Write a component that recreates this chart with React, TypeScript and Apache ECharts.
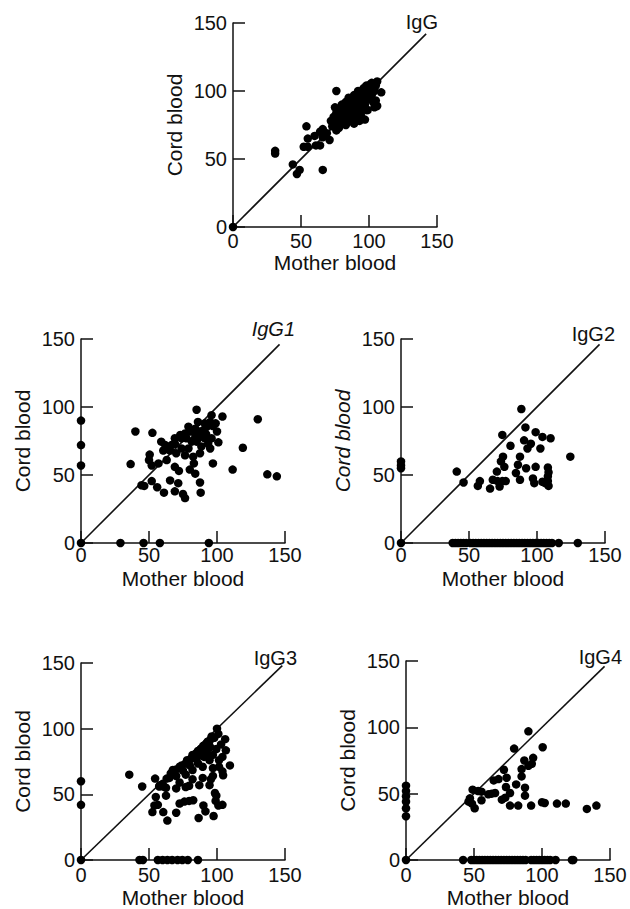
import React, { useEffect, useRef } from "react";
import * as echarts from "echarts";

type Pt = [number, number];

const axisTicks = [0, 50, 100, 150];
const panelTitles = ["IgG", "IgG1", "IgG2", "IgG3", "IgG4"];
const xAxisTitle = "Mother blood";
const yAxisTitle = "Cord blood";
const identityEnd = [142, 146, 146, 148, 146];

const igG: Pt[] = [
  [31, 54], [31, 56], [44, 46], [47, 39], [49, 42], [66, 42], [52, 59], [55, 59], [54, 74], [55, 65],
  [60, 67], [61, 60], [64, 60], [64, 70], [66, 72], [66, 66], [69, 69], [71, 64], [76, 100], [109, 99],
  [72, 78], [73, 74], [74, 81], [75, 76], [75, 88], [76, 84], [76, 71], [77, 79], [78, 73], [78, 86],
  [79, 82], [80, 77], [80, 90], [81, 84], [82, 79], [82, 88], [83, 75], [83, 92], [84, 86], [84, 77],
  [85, 82], [85, 95], [86, 89], [86, 78], [87, 84], [87, 93], [88, 87], [88, 80], [89, 97], [89, 90],
  [89, 76], [90, 84], [90, 93], [91, 88], [91, 80], [92, 100], [92, 95], [93, 91], [93, 86], [93, 78],
  [94, 98], [94, 82], [95, 93], [95, 88], [96, 102], [96, 96], [97, 90], [97, 79], [98, 104], [98, 86],
  [99, 98], [99, 86], [100, 94], [100, 101], [101, 105], [102, 97], [102, 106], [103, 92], [104, 100], [104, 88],
  [105, 104], [105, 93], [106, 89], [106, 107], [0, 0],
];

const igG1: Pt[] = [
  [0, 0], [0, 90], [0, 72], [0, 57], [29, 0], [46, 0], [58, 0], [94, 0],
  [36.5, 58], [40, 82], [52.5, 81], [85, 98], [104, 93], [130, 91], [119, 70], [111.5, 54], [137, 50.5], [144, 49],
  [97, 58.5], [101, 74], [88, 37], [87.5, 44.5], [76.5, 33], [75, 36], [69, 38], [61, 37], [56, 41], [52, 45.5],
  [46.5, 42], [65.5, 46], [71.5, 44], [72, 53], [69, 56], [80, 54], [83, 58.5], [84, 51], [50.5, 65], [52, 57],
  [57, 58.5], [59, 74.5], [63, 61], [60.5, 68], [62, 72], [64, 69.5], [66.5, 72], [69, 73], [65.5, 68], [70, 66],
  [74, 69.5], [76.5, 64.5], [79, 69.5], [81.5, 74.5], [77.5, 77], [74, 77], [80, 82], [84, 84], [86, 89], [91, 88],
  [95, 89], [96, 94], [92.5, 85.5], [88.5, 79.5], [91, 77], [93.5, 73], [96, 77], [100, 82], [95, 69.5], [87.5, 66],
  [82.5, 63.5], [88.5, 71], [85, 74.5], [79, 85.5], [76.5, 80.5], [73, 79.5], [69, 77], [84, 80], [87, 82], [90, 83],
  [92, 80], [86, 77], [83, 76], [97, 86], [99, 88], [50, 61], [44.5, 42.5],
];

const igG2: Pt[] = [
  [0, 0], [0, 60], [0, 57], [0, 55],
  [38, 0], [40, 0], [42, 0], [44, 0], [46, 0], [48, 0], [51, 0], [53, 0], [55, 0], [57, 0],
  [59, 0], [61, 0], [63, 0], [65, 0], [67, 0], [69, 0], [71, 0], [73, 0], [75, 0], [77, 0],
  [79, 0], [81, 0], [83, 0], [85, 0], [87, 0], [89, 0], [91, 0], [93, 0], [95, 0], [97, 0],
  [99, 0], [101, 0], [103, 0], [105, 0], [107, 0], [109, 0], [111, 0], [116, 0], [130, 0],
  [88.5, 98.5], [91.5, 85], [99, 81.5], [104, 78], [110, 77], [74.5, 79.5], [90.5, 75.5], [95.5, 73], [93, 69.5],
  [102.5, 69.5], [80.5, 71.5], [124.5, 63.5], [87.5, 63.5], [75, 63.5], [73.5, 60], [76, 56], [86, 57.5], [92, 55],
  [99, 56], [108, 55.5], [108.5, 52], [108, 49], [108, 45.5], [106, 44], [108.5, 42], [104, 45], [97, 47.5],
  [98, 44], [87.5, 46.5], [84.5, 51.5], [70.5, 52.5], [67.5, 46.5], [71, 45.5], [74.5, 45.5], [77, 45.5],
  [72.5, 41.5], [65.5, 40], [58, 45.5], [56.5, 42], [46, 44.5], [41, 52.5],
];

const igG3: Pt[] = [
  [0, 0], [0, 60], [0, 42],
  [43, 0], [45.5, 0], [56.5, 0], [60, 0], [63.5, 0], [67, 0], [71, 0], [74.5, 0], [78.5, 0], [86, 0],
  [35.5, 65], [45, 56], [54.5, 62], [100, 100], [106, 92], [109.5, 72], [104.5, 64.5], [55, 48], [62.5, 49],
  [54, 41.5], [56.5, 42], [52.5, 36.5], [60.5, 36.5], [63.5, 30], [70, 36], [72.5, 43], [76, 44.5], [79.5, 45],
  [82.5, 45.5], [90, 41.5], [91.5, 37], [86.5, 32], [97.5, 33.5], [99, 45], [99.5, 49], [98.5, 51], [101, 41.5],
  [104, 42], [62.5, 55], [57.5, 56], [60.5, 56], [70, 54.5], [77, 55.5], [79.5, 56.5], [87, 57], [94.5, 57],
  [72.5, 59], [82, 61.5], [89.5, 62.5], [97, 64], [104, 67.5], [97, 70], [101.5, 76], [94.5, 76], [89.5, 71],
  [82, 68.5], [77, 65], [70, 64], [65, 62.5], [67.5, 68.5], [72.5, 71], [77, 73.5], [81, 77], [84.5, 81],
  [88, 84.5], [92, 88.5], [94.5, 90.5], [98, 93], [99.5, 84.5], [97, 80], [93, 81], [86, 73.5], [90.5, 78.5],
  [104, 78.5], [106.5, 83.5], [101.5, 71], [95.5, 61.5], [66, 66], [70, 69], [74, 72], [78, 76], [82, 80],
  [86, 83], [90, 87], [93, 90], [96, 94], [75, 68], [80, 72], [85, 77], [88, 80], [92, 84], [95, 86],
  [60, 58], [63, 62], [58, 57], [101, 96], [103, 88],
];

const igG4: Pt[] = [
  [0, 0], [0, 56], [0, 52], [0, 48], [0, 44], [0, 39], [0, 33],
  [42, 0], [48, 0], [50, 0], [52, 0], [54, 0], [56, 0], [58, 0], [60, 0], [62, 0], [64, 0], [66, 0],
  [68, 0], [70, 0], [72, 0], [74, 0], [76, 0], [78, 0], [80, 0], [82, 0], [84, 0], [86, 0], [88, 0],
  [92, 0], [94, 0], [96, 0], [98, 0], [100, 0], [102, 0], [104, 0], [106, 0], [110, 0], [122, 0], [123, 0],
  [90, 97], [79.5, 84], [100.5, 85], [93.5, 77], [87, 75], [92.5, 72.5], [90, 71], [85, 68.5], [72, 68],
  [74, 62], [68, 61], [64.5, 60], [85, 63], [81, 57], [73.5, 55], [87.5, 54.5], [87.5, 48.5], [76.5, 50.5],
  [73, 47], [70.5, 45.5], [65.5, 50.5], [63, 50], [60.5, 49.5], [55.5, 45], [49, 53], [53, 52], [55.5, 51.5],
  [47, 46.5], [46, 44], [48.5, 42.5], [50.5, 39], [76.5, 41], [82.5, 41], [92, 41], [100, 43.5], [102, 43],
  [111, 42.5], [117.5, 42.5], [133, 38.5], [140, 41],
];

const panelData: Pt[][] = [igG, igG1, igG2, igG3, igG4];

// layout (pixels) – kept separate from the data
const layout = [
  { left: 233, top: 23, labelMargin: 4, nameGap: 16, titleX: 438, titleY: 22, italicTitle: false, italicY: false },
  { left: 81, top: 339, labelMargin: 2, nameGap: 25, titleX: 295, titleY: 329, italicTitle: true, italicY: false },
  { left: 401, top: 339, labelMargin: 2, nameGap: 25, titleX: 615, titleY: 334, italicTitle: false, italicY: true },
  { left: 81, top: 663, labelMargin: 5, nameGap: 27, titleX: 297, titleY: 658, italicTitle: false, italicY: false },
  { left: 406, top: 661, labelMargin: 5, nameGap: 27, titleX: 622, titleY: 657, italicTitle: false, italicY: false },
];
const SIZE = 204;
const FONT = '"Liberation Sans", Arial, Helvetica, sans-serif';
const INK = "#111";

export default function App() {
  const ref = useRef<HTMLDivElement>(null);
  useEffect(() => {
    if (!ref.current) return;
    const chart = echarts.init(ref.current, undefined, { renderer: "svg" });
    const axisCommon = {
      type: "value" as const,
      min: axisTicks[0],
      max: axisTicks[axisTicks.length - 1],
      interval: axisTicks[1] - axisTicks[0],
      splitLine: { show: false },
      axisLine: { show: true, onZero: false, lineStyle: { color: INK, width: 1.5 } },
      axisTick: { show: true, inside: true, length: 12, lineStyle: { color: INK, width: 1.5 } },
      nameLocation: "middle" as const,
      nameTextStyle: { color: INK, fontFamily: FONT, fontSize: 21 },
    };
    const grid = layout.map((l) => ({ left: l.left, top: l.top, width: SIZE, height: SIZE }));
    const xAxis = layout.map((l, i) => ({
      ...axisCommon,
      gridIndex: i,
      name: xAxisTitle,
      nameGap: l.nameGap,
      axisLabel: { color: INK, fontFamily: FONT, fontSize: 20, margin: l.labelMargin },
    }));
    const yAxis = layout.map((l, i) => ({
      ...axisCommon,
      gridIndex: i,
      name: yAxisTitle,
      nameGap: 48,
      nameRotate: 90,
      nameTextStyle: { ...axisCommon.nameTextStyle, fontStyle: l.italicY ? "italic" : "normal" },
      axisLabel: { color: INK, fontFamily: FONT, fontSize: 20, margin: 6 },
    }));
    const series: any[] = [];
    panelData.forEach((d, i) => {
      series.push({
        type: "line",
        xAxisIndex: i,
        yAxisIndex: i,
        data: [[0, 0], [identityEnd[i], identityEnd[i]]],
        showSymbol: false,
        symbol: "none",
        lineStyle: { color: INK, width: 1.6 },
        silent: true,
        z: 2,
      });
      series.push({
        type: "scatter",
        xAxisIndex: i,
        yAxisIndex: i,
        data: d,
        symbol: "circle",
        symbolSize: 8.5,
        clip: false,
        itemStyle: { color: "#000", opacity: 1 },
        z: 3,
      });
    });
    const graphic = layout.map((l, i) => ({
      type: "text",
      x: l.titleX,
      y: l.titleY,
      style: {
        text: panelTitles[i],
        fill: INK,
        font: `${l.italicTitle ? "italic " : ""}20px ${FONT}`,
        align: "right",
        verticalAlign: "middle",
      },
    }));
    chart.setOption({
      animation: false,
      backgroundColor: "#fff",
      grid,
      xAxis,
      yAxis,
      series,
      graphic,
    });
    return () => chart.dispose();
  }, []);
  return (
    <div
      ref={ref}
      style={{ position: "absolute", left: 0, top: 0, width: 630, height: 909 }}
    />
  );
}
